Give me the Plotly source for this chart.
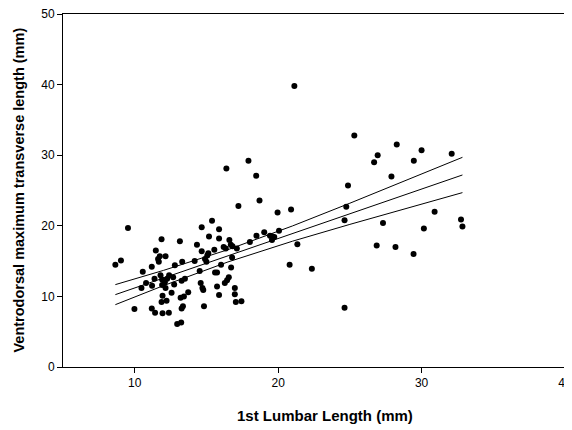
import plotly.graph_objects as go

lumbar_length = [8.65, 9.04, 9.53, 9.98, 10.56, 10.47, 10.79, 11.19, 11.47, 11.63, 11.68, 11.75,
                 11.87, 12.15, 11.19, 11.42, 11.94, 12.38, 11.87, 12.22, 11.94, 12.57, 11.21, 11.38,
                 11.8, 11.91, 12.1, 12.26, 12.4, 12.68, 12.75, 12.15, 11.91, 12.8, 12.96, 13.24,
                 13.15, 13.31, 13.27, 13.5, 13.2, 13.43, 13.73, 13.27, 13.36, 14.18, 14.34, 14.67,
                 14.67, 14.53, 14.6, 14.72, 14.78, 14.83, 14.9, 15.0, 15.06, 15.18, 15.13, 15.39,
                 15.55, 15.6, 15.74, 15.74, 15.88, 15.88, 15.88, 16.02, 16.2, 16.28, 16.39, 16.35,
                 16.44, 16.56, 16.6, 16.7, 16.72, 16.79, 16.82, 16.98, 16.98, 17.05, 17.12, 17.44,
                 17.23, 17.93, 18.03, 18.47, 18.49, 18.7, 19.03, 19.43, 19.57, 19.73, 19.6, 19.96,
                 20.06, 20.8, 20.9, 21.13, 21.34, 22.35, 24.63, 24.63, 24.75, 24.87, 25.31, 26.69,
                 26.94, 26.87, 27.31, 27.9, 28.18, 28.27, 29.46, 29.44, 30.0, 30.16, 30.91, 32.1,
                 32.75, 32.85]
transverse_length = [14.5, 15.1, 19.7, 8.2, 13.5, 11.2, 11.9, 14.2, 16.5, 15.3, 14.9, 15.7,
                     18.1, 15.7, 8.3, 7.7, 7.6, 7.7, 9.2, 9.4, 10.1, 10.5, 11.5, 12.5,
                     13.0, 12.4, 12.0, 12.5, 13.0, 12.7, 11.7, 11.2, 11.6, 14.4, 6.1, 6.3,
                     17.8, 14.9, 12.2, 12.5, 9.8, 10.0, 10.6, 8.3, 8.6, 15.0, 17.3, 19.8,
                     16.4, 13.6, 11.9, 11.2, 10.9, 8.6, 15.3, 14.9, 15.8, 18.5, 16.1, 20.7,
                     16.6, 13.4, 13.4, 11.4, 19.5, 18.2, 10.2, 14.5, 17.0, 11.9, 28.1, 16.8,
                     12.3, 12.7, 18.0, 17.3, 14.1, 15.5, 17.1, 11.2, 10.3, 9.2, 16.8, 9.3,
                     22.8, 29.2, 17.7, 27.1, 18.6, 23.6, 19.1, 18.6, 18.0, 18.4, 18.5, 21.9,
                     19.3, 14.5, 22.3, 39.8, 17.4, 13.9, 8.4, 20.8, 22.7, 25.7, 32.8, 29.0,
                     30.0, 17.2, 20.4, 27.0, 17.0, 31.5, 29.2, 16.0, 30.7, 19.6, 22.0, 30.2,
                     20.9, 19.9]

fit_x = [8.65, 12, 16.5, 21, 25, 29, 32.85]
fit_y = [10.25, 12.6, 15.75, 18.9, 21.7, 24.5, 27.2]
upper_y = [11.67, 13.68, 16.62, 19.98, 23.2, 26.49, 29.7]
lower_y = [8.83, 11.52, 14.88, 17.82, 20.2, 22.51, 24.7]

x_ticks = [10, 20, 30, 40]
y_ticks = [0, 10, 20, 30, 40, 50]
x_title = "1st Lumbar Length (mm)"
y_title = "Ventrodorsal maximum transverse length (mm)"

FONT = "Liberation Sans, Arial, sans-serif"

fig = go.Figure()
for yy in (upper_y, fit_y, lower_y):
    fig.add_trace(go.Scatter(x=fit_x, y=yy, mode="lines",
                             line=dict(color="black", width=1), hoverinfo="skip"))
fig.add_trace(go.Scatter(x=lumbar_length, y=transverse_length, mode="markers",
                         marker=dict(color="black", size=6)))

axis_common = dict(showline=True, linecolor="black", linewidth=1, mirror=True,
                   ticks="outside", ticklen=5, tickcolor="black", showgrid=False,
                   zeroline=False, automargin=False, ticklabeloverflow="allow",
                   tickfont=dict(family=FONT, size=12, color="black"))

fig.update_layout(
    width=564, height=422,
    margin=dict(l=55, r=7, t=6, b=63),
    paper_bgcolor="white", plot_bgcolor="white",
    showlegend=False,
    xaxis=dict(range=[5, 40], tickvals=x_ticks, **axis_common),
    yaxis=dict(range=[0, 50], tickvals=y_ticks, **axis_common),
    annotations=[
        dict(text=x_title, xref="paper", yref="paper", x=0.521, y=-0.138,
             xanchor="center", yanchor="middle", showarrow=False,
             font=dict(family=FONT, size=15, color="black", weight="bold")),
        dict(text=y_title, xref="paper", yref="paper", x=-0.0896, y=0.5,
             xanchor="center", yanchor="middle", showarrow=False, textangle=-90,
             font=dict(family=FONT, size=14.5, color="black", weight="bold")),
    ],
)

fig.write_html("out.html")
